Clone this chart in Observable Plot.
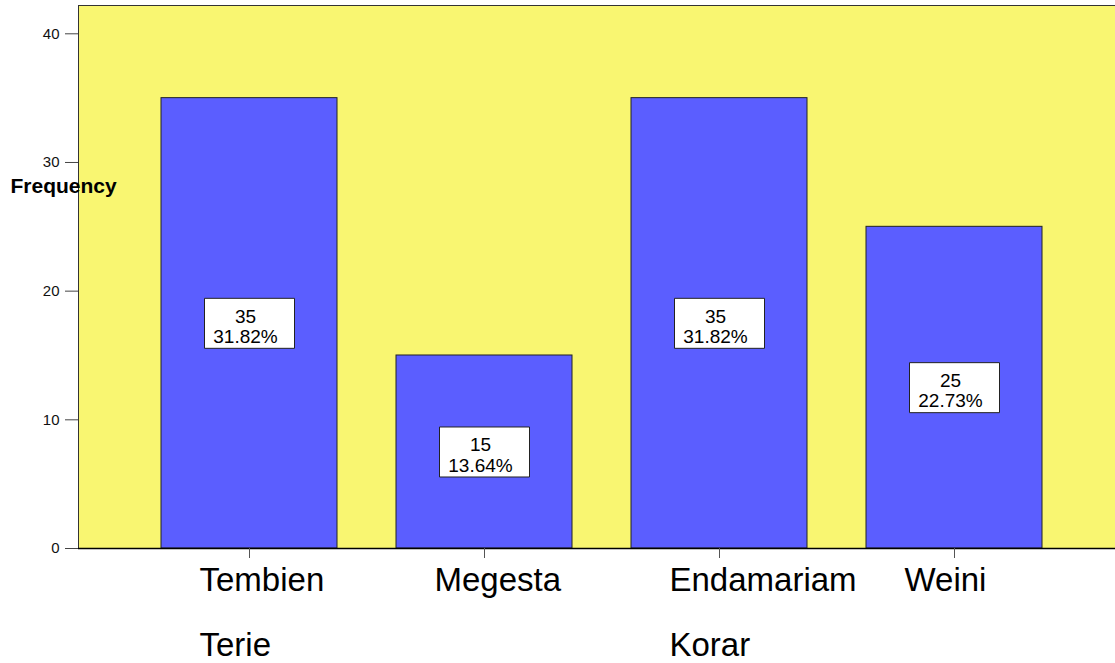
<!DOCTYPE html>
<html>
<head>
<meta charset="utf-8">
<script src="https://cdn.jsdelivr.net/npm/d3@7"></script>
<script src="https://cdn.jsdelivr.net/npm/@observablehq/plot@0.6"></script>
<style>
  html, body { margin: 0; padding: 0; background: #fff; }
  #chart { width: 1115px; height: 663px; overflow: hidden; }
</style>
</head>
<body>
<div id="chart"></div>
<script>
const categories = ["Tembien Terie", "Megesta", "Endamariam Korar", "Weini"];
const counts = [35, 15, 35, 25];
const percents = ["31.82%", "13.64%", "31.82%", "22.73%"];
const yTicks = [0, 10, 20, 30, 40];
const yLabel = "Frequency";

const data = categories.map((c, i) => ({category: c, count: counts[i], pct: percents[i]}));

const font = "'Liberation Sans', Arial, sans-serif";
const boxSymbol = {draw(ctx) { ctx.rect(-45, -25, 90, 50); }};

const chart = Plot.plot({
  width: 1115,
  height: 663,
  marginLeft: 78,
  marginRight: -2,
  marginTop: 5,
  marginBottom: 115,
  style: {fontFamily: font, background: "white", overflow: "hidden"},
  x: {domain: categories, range: [78, 1125.4], paddingInner: 0.2494, paddingOuter: 0.3517, axis: null},
  y: {domain: [0, 42.2], axis: null},
  marks: [
    Plot.frame({fill: "#F9F671", stroke: "#333", strokeWidth: 1}),
    Plot.barY(data, {x: "category", y: "count", fill: "#5B5EFF", stroke: "#222", strokeWidth: 1}),
    Plot.ruleY([0], {stroke: "black", strokeWidth: 1.3}),
    Plot.axisY({ticks: yTicks, tickSize: 13, tickPadding: 6, fontSize: 15, label: null, stroke: "#444", fill: "#111"}),
    Plot.axisX({tickSize: 10, tickFormat: () => "", label: null, stroke: "#555"}),
    Plot.text(data, {
      x: "category", frameAnchor: "bottom",
      text: d => d.category.replace(" ", "\n"),
      textAnchor: "start", lineAnchor: "top", lineHeight: 1.96,
      dx: -50, dy: -3, fontSize: 33, fill: "#000"
    }),
    Plot.dot(data, {x: "category", y: d => d.count / 2, symbol: boxSymbol, fill: "white", stroke: "#222", strokeWidth: 1}),
    Plot.text(data, {
      x: "category", y: d => d.count / 2,
      text: d => `${d.count}\n${d.pct}`,
      fontSize: 19, lineHeight: 1.08, lineAnchor: "middle",
      dx: -4, dy: 3, fill: "#000"
    }),
    Plot.text([yLabel], {frameAnchor: "top-left", text: d => d, textAnchor: "start", lineAnchor: "bottom", dx: -68, dy: 187, fontSize: 21, fontWeight: "bold", fill: "#000"})
  ]
});
document.getElementById("chart").appendChild(chart);
</script>
</body>
</html>
